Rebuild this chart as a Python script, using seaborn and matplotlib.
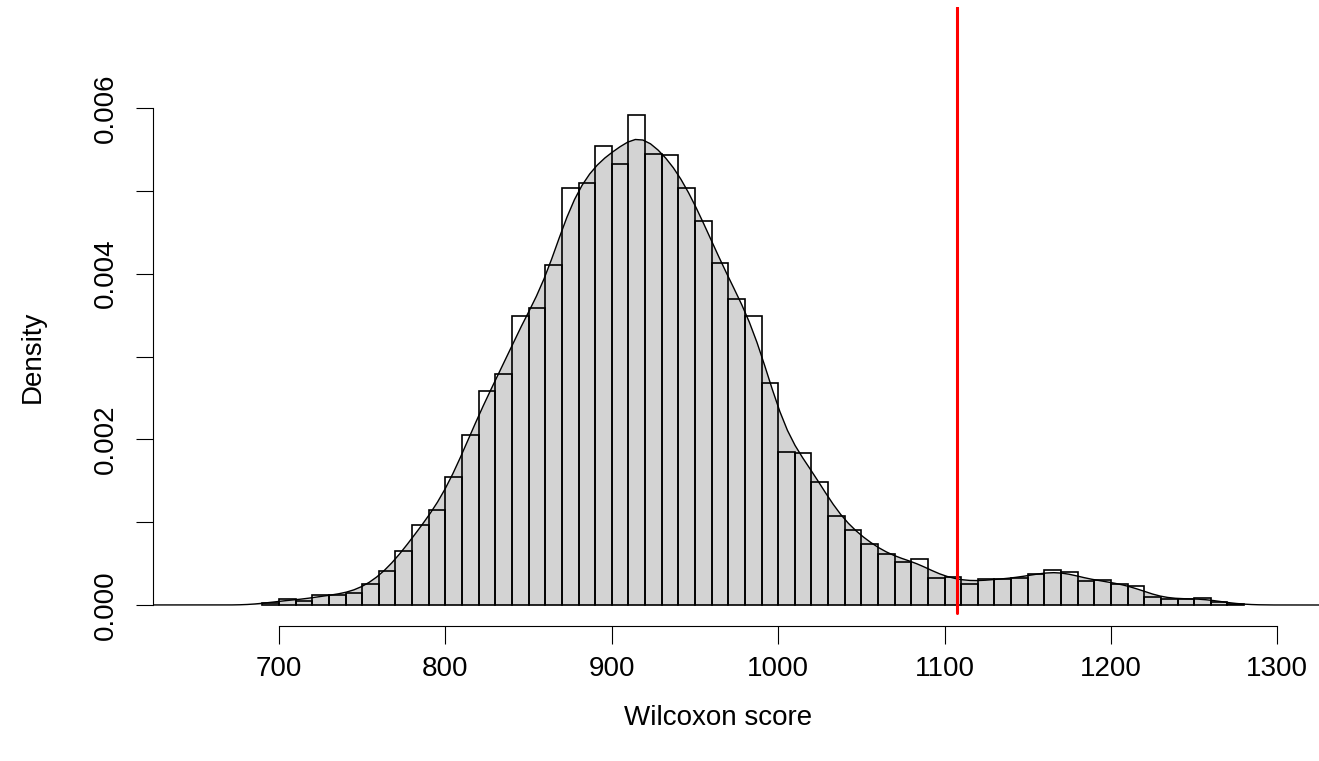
import numpy as np
import matplotlib
matplotlib.use("Agg")
from matplotlib import pyplot as plt
import seaborn as sns

# histogram bins (left edges, width 10) and densities
bin_left = [690, 700, 710, 720, 730, 740, 750, 760, 770, 780,
            790, 800, 810, 820, 830, 840, 850, 860, 870, 880,
            890, 900, 910, 920, 930, 940, 950, 960, 970, 980,
            990, 1000, 1010, 1020, 1030, 1040, 1050, 1060, 1070, 1080,
            1090, 1100, 1110, 1120, 1130, 1140, 1150, 1160, 1170, 1180,
            1190, 1200, 1210, 1220, 1230, 1240, 1250, 1260, 1270]
density = [0.00003, 0.00007, 0.00005, 0.00012, 0.00012, 0.00015, 0.00025, 0.00041, 0.00065, 0.00097,
           0.00115, 0.00155, 0.00205, 0.00258, 0.00279, 0.00349, 0.00359, 0.00410, 0.00504, 0.00509,
           0.00554, 0.00533, 0.00592, 0.00545, 0.00543, 0.00504, 0.00463, 0.00413, 0.00370, 0.00349,
           0.00268, 0.00185, 0.00184, 0.00148, 0.00107, 0.00091, 0.00074, 0.00062, 0.00052, 0.00056,
           0.00032, 0.00034, 0.00025, 0.00031, 0.00031, 0.00033, 0.00037, 0.00042, 0.00040, 0.00029,
           0.00030, 0.00025, 0.00023, 0.00010, 0.00007, 0.00007, 0.00009, 0.00004, 0.00001]
bin_width = 10
observed_score = 1107.6

x_ticks = [700, 800, 900, 1000, 1100, 1200, 1300]
y_ticks = [0.000, 0.001, 0.002, 0.003, 0.004, 0.005, 0.006]

sns.set_style("ticks")
plt.rcParams['font.family'] = ['Liberation Sans', 'DejaVu Sans']
plt.rcParams['text.color'] = "black"

centers = np.array(bin_left) + bin_width / 2
edges = list(bin_left) + [bin_left[-1] + bin_width]

fig = plt.figure(figsize=(13.19, 7.61), dpi=100)
ax = fig.add_axes([153 / 1319, 135 / 761, 1166 / 1319, 619 / 761])

# grey area under the density curve
sns.kdeplot(x=centers, weights=density, bw_method=0.12, cut=8, fill=True,
            color="#D3D3D3", alpha=1, linewidth=0, ax=ax)
# bar outlines on top
sns.histplot(x=centers, weights=density, bins=edges, stat="count", fill=False,
             element="bars", color="black", linewidth=1.2, ax=ax)
# density line
sns.kdeplot(x=centers, weights=density, bw_method=0.12, cut=8,
            color="black", linewidth=1.0, ax=ax)

ax.axvline(observed_score, ymin=0.0215, ymax=1, color="#FF0000", linewidth=2.2)

ax.set_xlim(624.27, 1325.04)
ax.set_ylim(-0.0002535, 0.0072195)

sns.despine(ax=ax, top=True, right=True)
ax.spines['left'].set_bounds(0, 0.006)
ax.spines['bottom'].set_bounds(700, 1300)
for side in ['left', 'bottom']:
    ax.spines[side].set_linewidth(0.8)
    ax.spines[side].set_color("black")

ax.set_xticks(x_ticks)
ax.set_xticklabels([str(t) for t in x_ticks])
ax.set_yticks(y_ticks)
ax.set_yticklabels(["%.3f" % t if i % 2 == 0 else "" for i, t in enumerate(y_ticks)],
                   rotation=90, va="center")
ax.tick_params(axis="both", direction="out", length=12.6, width=0.8,
               color="black", labelsize=20, labelcolor="black")
ax.tick_params(axis="x", pad=9)
ax.tick_params(axis="y", pad=12)

ax.set_xlabel("")
ax.set_ylabel("")
fig.text(718.5 / 1319, 1 - 718 / 761, "Wilcoxon score", fontsize=20,
         ha="center", va="center", color="black")
fig.text(33 / 1319, 1 - 357 / 761, "Density", fontsize=20, rotation=90,
         ha="center", va="center", color="black")

fig.savefig("out.png", dpi=100)
